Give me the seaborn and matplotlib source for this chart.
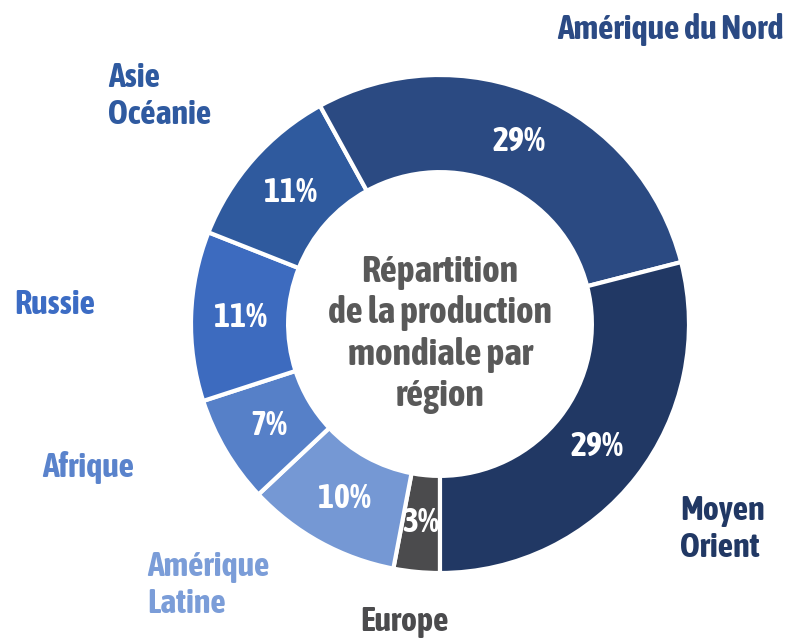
#!/usr/bin/env python3
"""Donut chart: Répartition de la production mondiale par région."""
import seaborn as sns
import matplotlib.pyplot as plt
from matplotlib import font_manager

regions = ['Europe', 'Amérique\nLatine', 'Afrique', 'Russie', 'Asie\nOcéanie',
           'Amérique du Nord', 'Moyen\nOrient']
shares = [3, 10, 7, 11, 11, 29, 29]
colors = ['#4b4b4d', '#7598d4', '#5680c8', '#3d6bbf', '#2f5a9e', '#2b4a82', '#213864']
label_colors = ['#4b4b4d', '#7b9dd8', '#5a83cc', '#3c6cc4', '#2f5aa0', '#2b4a84', '#213864']
center_title = 'Répartition\nde la production\nmondiale par\nrégion'

sns.set_theme(style='white')


def weight_num(w):
    if isinstance(w, (int, float)):
        return w
    return {'bold': 700, 'heavy': 800, 'black': 900, 'semibold': 600,
            'demibold': 600, 'extra bold': 800}.get(str(w).lower(), 400)


# the slide used a narrow bold face; take an upright one if there is one
bold_narrow = sorted({f.name for f in font_manager.fontManager.ttflist
                      if ('Narrow' in f.name or 'Condensed' in f.name
                          or f.stretch in ('condensed', 'semi-condensed'))
                      and weight_num(f.weight) >= 600 and f.style == 'normal'})
if 'Liberation Sans Narrow' in bold_narrow:
    family, scale = 'Liberation Sans Narrow', 0.9
elif bold_narrow:
    family, scale = bold_narrow[0], 1.0
else:
    family, scale = 'Liberation Sans', 0.8
plt.rcParams['font.family'] = [family, 'DejaVu Sans']
plt.rcParams['font.style'] = 'normal'

W, H = 796, 641
CX, CY, R = 440, H - 324, 249

fig = plt.figure(figsize=(W / 100, H / 100), dpi=100)
ax = fig.add_axes([0, 0, 1, 1])

wedges, _, autotexts = ax.pie(
    shares, colors=colors, startangle=270, counterclock=False,
    radius=R, center=(CX, CY), autopct='%d%%', pctdistance=0.80,
    wedgeprops=dict(width=R * 0.39, edgecolor='white', linewidth=3),
    textprops=dict(color='white', fontsize=24.5 * scale, fontweight='bold',
                   fontstyle='normal'),
)

# external labels, placed by hand like the original slide
label_pos = {
    'Europe': (360, 622),
    'Amérique\nLatine': (147, 585),
    'Afrique': (42, 467),
    'Russie': (14, 305),
    'Asie\nOcéanie': (108, 96),
    'Amérique du Nord': (557, 30),
    'Moyen\nOrient': (680, 529),
}
for name, col in zip(regions, label_colors):
    x, y = label_pos[name]
    ax.text(x, H - y, name, color=col, fontsize=24.5 * scale, fontweight='bold',
            fontstyle='normal', ha='left', va='center', linespacing=1.15)

ax.text(CX, H - 334, center_title, color='#595959', fontsize=27 * scale,
        fontweight='bold', fontstyle='normal', ha='center', va='center',
        linespacing=1.2)

ax.set_xlim(0, W)
ax.set_ylim(0, H)
ax.set_aspect('equal')
ax.axis('off')

fig.savefig('out.png', dpi=100)
